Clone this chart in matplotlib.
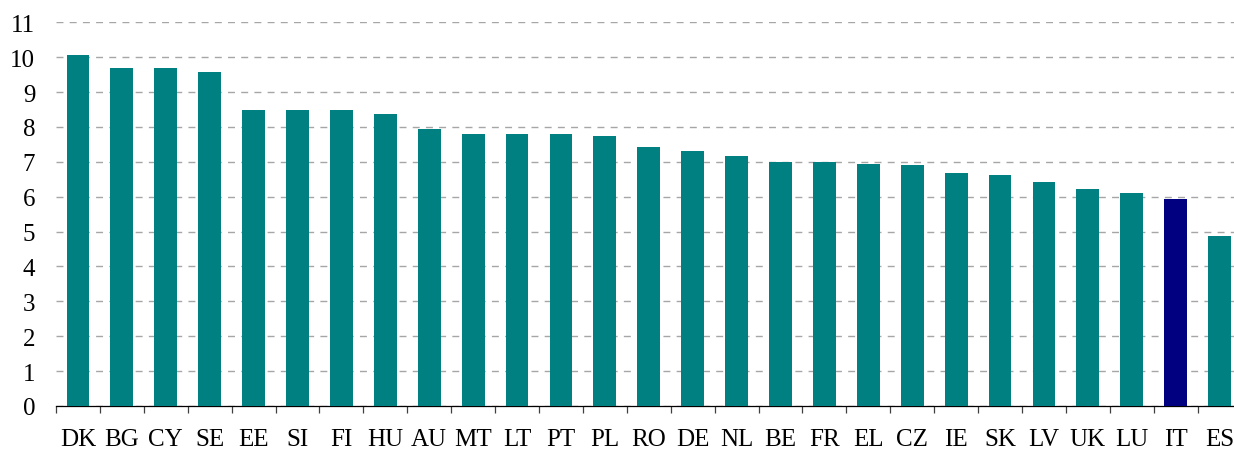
import matplotlib
matplotlib.use("Agg")
import matplotlib.pyplot as plt
import numpy as np

countries = ["DK", "BG", "CY", "SE", "EE", "SI", "FI", "HU", "AU", "MT", "LT", "PT", "PL", "RO",
             "DE", "NL", "BE", "FR", "EL", "CZ", "IE", "SK", "LV", "UK", "LU", "IT", "ES"]
values = [10.06, 9.69, 9.69, 9.58, 8.49, 8.49, 8.49, 8.37, 7.94, 7.80, 7.80, 7.80, 7.74, 7.43,
          7.31, 7.17, 7.00, 7.00, 6.94, 6.91, 6.68, 6.62, 6.42, 6.22, 6.11, 5.93, 4.87]
highlight = "IT"
y_ticks = list(range(0, 12))

plt.rcParams['font.family'] = ['Liberation Serif', 'DejaVu Serif']

W, H = 1234, 452
fig = plt.figure(figsize=(W / 100, H / 100), dpi=100)
left_px, right_px, bottom_px, top_px = 56, 1241.5, 407, 23.3
ax = fig.add_axes([left_px / W, (H - bottom_px) / H, (right_px - left_px) / W, (bottom_px - top_px) / H])

x = np.arange(len(countries))
colors = ["#000080" if c == highlight else "#008080" for c in countries]
ax.bar(x, values, width=0.52, color=colors, zorder=3)

ax.set_xlim(-0.5, len(countries) - 0.5)
ax.set_ylim(0, 11)
ax.set_yticks(y_ticks)
ax.set_yticklabels([str(t) for t in y_ticks], fontsize=18)
ax.tick_params(axis='y', length=0, pad=15)

ax.set_xticks(x)
ax.set_xticklabels(countries, fontsize=18)
ax.tick_params(axis='x', which='major', length=0, pad=16)
ax.set_xticks(np.arange(-0.5, len(countries), 1.0), minor=True)
ax.tick_params(axis='x', which='minor', length=5, width=0.9, color='#404040', direction='out')

ax.grid(axis='y', color='#a6a6a6', linewidth=1.0, linestyle=(0, (5, 4.5)), zorder=0)
ax.set_axisbelow(True)

for s in ['top', 'right', 'left']:
    ax.spines[s].set_visible(False)
ax.spines['bottom'].set_linewidth(0.9)
ax.spines['bottom'].set_color('black')

fig.savefig("out.png", dpi=100)
